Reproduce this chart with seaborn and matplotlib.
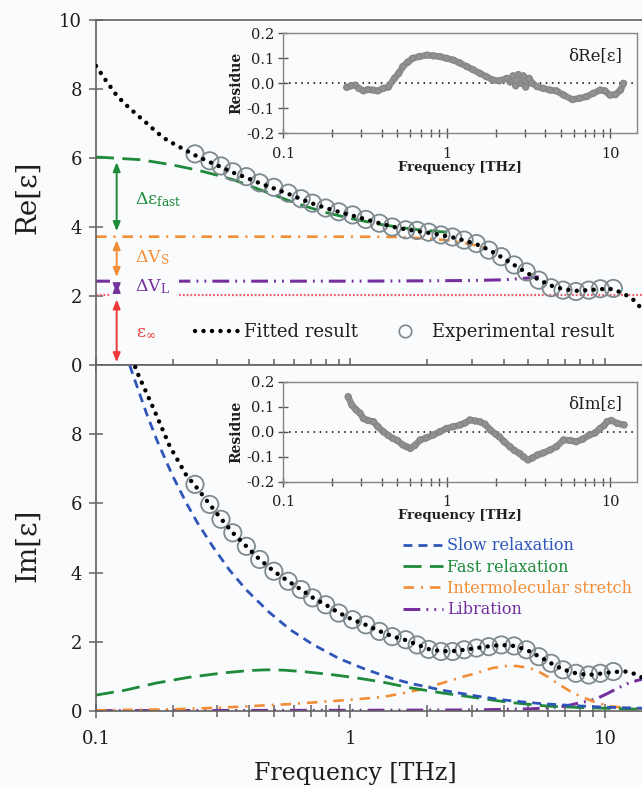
import numpy as np
import pandas as pd
import matplotlib
matplotlib.use("Agg")
import matplotlib.pyplot as plt
import seaborn as sns
from matplotlib.lines import Line2D
from matplotlib.patches import Rectangle
from matplotlib.ticker import FixedLocator, NullFormatter

# ---------------- data ----------------
FIT_F = [0.10, 0.11, 0.121, 0.133, 0.145, 0.16, 0.173, 0.19, 0.213, 0.245,
         0.28, 0.31, 0.345, 0.39, 0.44, 0.50, 0.57, 0.64, 0.71, 0.80,
         0.90, 1.02, 1.15, 1.30, 1.46, 1.65, 1.83, 2.03, 2.27, 2.52,
         2.80, 3.13, 3.50, 3.92, 4.40, 4.92, 5.50, 6.15, 6.85, 7.70,
         8.65, 9.60, 10.8, 12.1, 13.0, 14.0]
RE_FIT = [8.67, 8.22, 7.80, 7.50, 7.25, 6.98, 6.75, 6.52, 6.32, 6.08,
          5.88, 5.74, 5.58, 5.43, 5.27, 5.12, 4.96, 4.81, 4.68, 4.55,
          4.44, 4.33, 4.22, 4.11, 4.01, 3.93, 3.88, 3.83, 3.77, 3.70,
          3.61, 3.50, 3.34, 3.13, 2.90, 2.68, 2.47, 2.30, 2.20, 2.15,
          2.17, 2.20, 2.20, 2.03, 1.88, 1.62]

EXP_F = [0.245, 0.28, 0.31, 0.345, 0.39, 0.44, 0.50, 0.57, 0.64, 0.71,
         0.80, 0.90, 1.02, 1.15, 1.30, 1.46, 1.65, 1.83, 2.03, 2.27,
         2.52, 2.80, 3.13, 3.50, 3.92, 4.40, 4.92, 5.50, 6.15, 6.85,
         7.70, 8.65, 9.60, 10.8]
RE_EXP = [6.12, 5.92, 5.77, 5.60, 5.46, 5.28, 5.15, 4.98, 4.82, 4.69,
          4.55, 4.44, 4.35, 4.22, 4.11, 4.00, 3.92, 3.90, 3.85, 3.77,
          3.71, 3.62, 3.52, 3.33, 3.14, 2.90, 2.70, 2.46, 2.24, 2.17,
          2.13, 2.17, 2.21, 2.22]
IM_EXP = [6.55, 5.97, 5.54, 5.15, 4.76, 4.38, 4.04, 3.75, 3.51, 3.27,
          3.07, 2.83, 2.64, 2.49, 2.30, 2.15, 2.06, 1.91, 1.78, 1.72,
          1.72, 1.77, 1.82, 1.86, 1.91, 1.88, 1.77, 1.57, 1.38, 1.19,
          1.09, 1.04, 1.09, 1.14]

IM_FIT_F = [0.135, 0.146, 0.167, 0.195, 0.227, 0.245, 0.28, 0.31, 0.345, 0.39,
            0.44, 0.50, 0.57, 0.64, 0.71, 0.80, 0.90, 1.02, 1.15, 1.30,
            1.46, 1.65, 1.83, 2.03, 2.27, 2.52, 2.80, 3.13, 3.50, 3.92,
            4.40, 4.92, 5.50, 6.15, 6.85, 7.70, 8.65, 9.60, 10.8, 12.1,
            13.0, 14.0]
IM_FIT = [10.4, 9.75, 8.80, 7.65, 6.80, 6.52, 5.97, 5.56, 5.15, 4.76,
          4.38, 4.04, 3.75, 3.51, 3.28, 3.07, 2.84, 2.64, 2.49, 2.31,
          2.16, 2.05, 1.92, 1.79, 1.73, 1.73, 1.77, 1.82, 1.87, 1.91,
          1.88, 1.77, 1.58, 1.38, 1.20, 1.09, 1.04, 1.08, 1.13, 1.14,
          1.08, 0.97]

# Re components
RE_FAST_F = [0.10, 0.15, 0.20, 0.25, 0.30, 0.35, 0.41, 0.50, 0.61, 0.70,
             0.80, 1.00, 1.30, 1.70, 2.20, 2.50]
RE_FAST = [6.03, 5.95, 5.80, 5.65, 5.50, 5.36, 5.17, 4.93, 4.69, 4.55,
           4.42, 4.25, 4.08, 3.95, 3.87, 3.84]
RE_STR_F = [0.10, 1.0, 1.5, 2.0, 2.5, 3.0, 3.5]
RE_STR = [3.72, 3.72, 3.71, 3.67, 3.60, 3.50, 3.35]
RE_LIB_F = [0.10, 1.0, 2.0, 3.0, 4.0, 5.0, 5.5]
RE_LIB = [2.43, 2.43, 2.44, 2.45, 2.47, 2.52, 2.56]
EPS_F = [0.10, 14.0]
EPS_INF = [2.03, 2.03]

# Im components
IM_SLOW_F = [0.13, 0.14, 0.158, 0.173, 0.20, 0.227, 0.25, 0.288, 0.335, 0.39,
             0.48, 0.58, 0.71, 0.90, 1.15, 1.46, 1.72, 2.30, 3.15, 3.98,
             4.96, 5.70, 7.80, 10.0, 14.0]
IM_SLOW = [10.4, 9.7, 8.6, 7.85, 6.8, 6.0, 5.45, 4.75, 4.07, 3.5,
           2.85, 2.35, 1.93, 1.52, 1.2, 0.94, 0.8, 0.6, 0.43, 0.32,
           0.25, 0.21, 0.15, 0.11, 0.08]
IM_FAST_F = [0.10, 0.13, 0.173, 0.23, 0.315, 0.40, 0.467, 0.55, 0.67, 0.85,
             1.05, 1.33, 1.72, 2.30, 3.15, 4.20, 6.00, 8.00, 10.0, 14.0]
IM_FAST = [0.46, 0.60, 0.81, 0.97, 1.10, 1.17, 1.19, 1.18, 1.13, 1.05,
           0.96, 0.84, 0.67, 0.52, 0.38, 0.25, 0.14, 0.10, 0.08, 0.05]
IM_STR_F = [0.10, 0.20, 0.315, 0.58, 0.90, 1.33, 1.70, 1.88, 2.30, 2.80,
            3.15, 3.60, 4.10, 4.50, 5.00, 5.40, 6.00, 6.50, 7.50, 8.90,
            10.4, 12.2, 14.0]
IM_STR = [0.02, 0.05, 0.10, 0.20, 0.30, 0.40, 0.55, 0.62, 0.81, 1.00,
          1.10, 1.24, 1.30, 1.30, 1.25, 1.17, 0.98, 0.80, 0.52, 0.29,
          0.14, 0.09, 0.07]
IM_LIB_F = [0.10, 1.0, 3.0, 5.0, 6.0, 7.0, 7.8, 8.5, 9.3, 10.2, 11.1, 12.5, 14.0]
IM_LIB = [0.01, 0.02, 0.03, 0.06, 0.09, 0.14, 0.22, 0.28, 0.36, 0.50, 0.64, 0.82, 0.92]

# residues
RES_RE_F = [0.245, 0.26, 0.276, 0.29, 0.31, 0.33, 0.355, 0.38, 0.41, 0.44,
            0.48, 0.51, 0.54, 0.58, 0.62, 0.68, 0.76, 0.83, 0.91, 1.0,
            1.1, 1.2, 1.33, 1.45, 1.6, 1.75, 1.93, 2.1, 2.34, 2.45,
            2.55, 2.65, 2.75, 2.85, 2.95, 3.05, 3.2, 3.35, 3.58, 3.9,
            4.3, 4.7, 5.2, 5.9, 6.5, 7.2, 7.9, 8.7, 9.3, 10.0,
            10.8, 11.6, 12.1]
RES_RE = [-0.016, -0.01, -0.007, -0.02, -0.03, -0.025, -0.027, -0.03, -0.02, -0.015,
          0.02, 0.04, 0.067, 0.085, 0.10, 0.107, 0.113, 0.11, 0.107, 0.10,
          0.093, 0.082, 0.067, 0.055, 0.04, 0.027, 0.013, 0.01, 0.02, 0.005,
          0.03, -0.01, 0.035, 0.0, 0.03, -0.015, 0.02, 0.0, -0.013, -0.02,
          -0.027, -0.03, -0.047, -0.065, -0.06, -0.053, -0.04, -0.027, -0.03, -0.047,
          -0.045, -0.027, 0.0]
RES_IM_F = [0.25, 0.263, 0.28, 0.295, 0.31, 0.33, 0.357, 0.38, 0.41, 0.44,
            0.47, 0.5, 0.54, 0.57, 0.6, 0.64, 0.69, 0.75, 0.83, 0.91,
            1.0, 1.1, 1.21, 1.3, 1.39, 1.5, 1.6, 1.72, 1.85, 2.0,
            2.1, 2.25, 2.44, 2.6, 2.8, 2.95, 3.15, 3.35, 3.6, 3.9,
            4.3, 4.7, 5.2, 5.7, 6.2, 6.8, 7.5, 8.1, 8.7, 9.2,
            9.6, 10.2, 11.1, 12.2]
RES_IM = [0.14, 0.107, 0.087, 0.075, 0.053, 0.045, 0.04, 0.02, 0.0, -0.015,
          -0.027, -0.035, -0.053, -0.06, -0.067, -0.055, -0.033, -0.025, -0.013, 0.0,
          0.013, 0.02, 0.027, 0.035, 0.047, 0.043, 0.04, 0.03, 0.007, -0.01,
          -0.02, -0.04, -0.06, -0.075, -0.087, -0.1, -0.113, -0.105, -0.093, -0.085,
          -0.073, -0.06, -0.033, -0.035, -0.04, -0.03, -0.013, -0.005, 0.013, 0.025,
          0.04, 0.045, 0.033, 0.027]

# arrow spans (value ranges of the Re contributions)
ARROW_F = 0.1206
ARROWS = [(5.88, 3.88), (3.62, 2.55), (2.38, 2.08), (1.90, 0.08)]

MAJOR = [0.1, 1, 10]
MAJOR_LABELS = ["0.1", "1", "10"]
MINOR = [m * d for d in (0.1, 1.0) for m in range(2, 10)]

# ---------------- style ----------------
sns.set_theme(style="ticks")
plt.rcParams["font.family"] = ["DejaVu Serif", "DejaVu Sans"]
plt.rcParams["mathtext.fontset"] = "dejavuserif"

BG = "#fafbfd"
SPINE = "#626262"
TXT = "#1e1e1e"
BLUE = "#2f55b8"
GREEN = "#1e8a3a"
ORANGE = "#f28e36"
PURPLE = "#74309c"
PINK = "#ef5a6a"
RED = "#ec3838"
GRAY = "#7d898e"
RGRAY = "#878787"

DOT = (0, (0.01, 1.9))
LS_SLOW = (0, (3.2, 2.2))
LS_FAST = (0, (6.5, 3.0))
LS_STR = (0, (4.0, 2.6, 0.8, 2.6))
LS_LIB = (0, (5.5, 2.0, 0.6, 2.0, 0.6, 2.0))
LS_EPS = (0, (0.8, 0.9))

fig = plt.figure(figsize=(6.42, 7.88), dpi=100, facecolor=BG)
ax1 = fig.add_axes([0.1495, 0.5368, 0.8505, 0.4378])
ax2 = fig.add_axes([0.1495, 0.0977, 0.8505, 0.4391])


def style_main(ax):
    ax.set_facecolor(BG)
    ax.set_xscale("log")
    ax.set_xlim(0.1, 14)
    ax.set_ylim(0, 10)
    for s in ["left", "bottom", "top"]:
        ax.spines[s].set_color(SPINE)
        ax.spines[s].set_linewidth(1.2)
    ax.spines["right"].set_visible(False)
    ax.set_xticks(MAJOR, labels=MAJOR_LABELS)
    ax.xaxis.set_minor_locator(FixedLocator(MINOR))
    ax.xaxis.set_minor_formatter(NullFormatter())
    ax.tick_params(which="both", direction="inout", color=SPINE, width=1.1,
                   labelsize=13, labelcolor=TXT)
    ax.tick_params(which="major", length=10, pad=5)
    ax.tick_params(which="minor", length=9)
    ax.set_xlabel("")
    ax.set_ylabel("")


for ax in (ax1, ax2):
    style_main(ax)

ax1.set_yticks([0, 2, 4, 6, 8, 10])
ax2.set_yticks([0, 2, 4, 6, 8])
ax1.tick_params(axis="x", labelbottom=False)
ax2.tick_params(axis="x", pad=9)

# ---------------- top panel: Re ----------------
sns.lineplot(x=EPS_F, y=EPS_INF, ax=ax1, color=PINK, lw=1.6, linestyle=LS_EPS, zorder=2)
sns.lineplot(x=RE_LIB_F, y=RE_LIB, ax=ax1, color=PURPLE, lw=2.2, linestyle=LS_LIB, zorder=2)
sns.lineplot(x=RE_STR_F, y=RE_STR, ax=ax1, color=ORANGE, lw=1.9, linestyle=LS_STR, zorder=2)
sns.lineplot(x=RE_FAST_F, y=RE_FAST, ax=ax1, color=GREEN, lw=2.0, linestyle=LS_FAST, zorder=2)
sns.scatterplot(x=EXP_F, y=RE_EXP, ax=ax1, s=155, marker="o", facecolors="none",
                edgecolor=GRAY, linewidth=1.3, zorder=3)
sns.lineplot(x=FIT_F, y=RE_FIT, ax=ax1, color="black", lw=3.2, linestyle=DOT,
             dash_capstyle="round", zorder=4)

# blank area behind the ΔV_L label (the reference interrupts the lines there)
ax1.add_patch(Rectangle((0.1135, 1.90), 0.212 - 0.1135, 0.68, facecolor=BG,
                        edgecolor="none", zorder=2.5))

for (ytop, ybot), col in zip(ARROWS, [GREEN, ORANGE, PURPLE, RED]):
    ax1.annotate("", xy=(ARROW_F, ytop), xytext=(ARROW_F, ybot),
                 arrowprops=dict(arrowstyle="<|-|>,head_length=0.45,head_width=0.18",
                                 color=col, lw=1.4, shrinkA=0, shrinkB=0), zorder=5)

lab_x = 0.142
ax1.text(lab_x, 4.78, r"$\mathrm{\Delta\varepsilon}_{\mathrm{fast}}$", color=GREEN,
         fontsize=12.5, va="center", ha="left", zorder=6)
ax1.text(lab_x, 3.10, r"$\mathrm{\Delta V}_{\mathrm{S}}$", color=ORANGE,
         fontsize=12.5, va="center", ha="left", zorder=6)
ax1.text(lab_x, 2.26, r"$\mathrm{\Delta V}_{\mathrm{L}}$", color=PURPLE,
         fontsize=12.5, va="center", ha="left", zorder=6)
ax1.text(lab_x + 0.002, 0.96, r"$\mathrm{\varepsilon}_{\infty}$", color=RED,
         fontsize=12.5, va="center", ha="left", zorder=6)

h_fit = Line2D([], [], color="black", lw=3.2, linestyle=DOT, dash_capstyle="round")
h_exp = Line2D([], [], marker="o", ls="none", mfc="none", mec=GRAY, ms=9, mew=1.2)
leg1 = ax1.legend([h_fit, h_exp], ["Fitted result", "Experimental result"], ncol=2,
                  loc="center left", bbox_to_anchor=(0.181, 0.096), frameon=False,
                  fontsize=13, handlelength=2.4, handletextpad=0.3,
                  columnspacing=1.4, borderaxespad=0, borderpad=0)
for t in leg1.get_texts():
    t.set_color(TXT)

# ---------------- bottom panel: Im ----------------
sns.lineplot(x=IM_LIB_F, y=IM_LIB, ax=ax2, color=PURPLE, lw=2.2, linestyle=LS_LIB, zorder=2)
sns.lineplot(x=IM_STR_F, y=IM_STR, ax=ax2, color=ORANGE, lw=1.9, linestyle=LS_STR, zorder=2)
sns.lineplot(x=IM_FAST_F, y=IM_FAST, ax=ax2, color=GREEN, lw=2.0, linestyle=LS_FAST, zorder=2)
sns.lineplot(x=IM_SLOW_F, y=IM_SLOW, ax=ax2, color=BLUE, lw=2.0, linestyle=LS_SLOW, zorder=2)
sns.scatterplot(x=EXP_F, y=IM_EXP, ax=ax2, s=155, marker="o", facecolors="none",
                edgecolor=GRAY, linewidth=1.3, zorder=3)
sns.lineplot(x=IM_FIT_F, y=IM_FIT, ax=ax2, color="black", lw=3.2, linestyle=DOT,
             dash_capstyle="round", zorder=4)

hs = [Line2D([], [], color=BLUE, lw=2.0, linestyle=LS_SLOW),
      Line2D([], [], color=GREEN, lw=2.0, linestyle=LS_FAST),
      Line2D([], [], color=ORANGE, lw=1.9, linestyle=LS_STR),
      Line2D([], [], color=PURPLE, lw=2.2, linestyle=LS_LIB)]
names = ["Slow relaxation", "Fast relaxation", "Intermolecular stretch", "Libration"]
leg2 = ax2.legend(hs, names, loc="upper left", bbox_to_anchor=(0.562, 0.502),
                  frameon=False, fontsize=11.5, handlelength=2.5, handletextpad=0.25,
                  labelspacing=0.27, borderaxespad=0, borderpad=0)
for t, c in zip(leg2.get_texts(), [BLUE, GREEN, ORANGE, PURPLE]):
    t.set_color(c)

# ---------------- insets ----------------
def style_inset(ax, title):
    ax.set_facecolor(BG)
    ax.set_xscale("log")
    ax.set_xlim(0.1, 14.6)
    ax.set_ylim(-0.2, 0.2)
    for s in ax.spines.values():
        s.set_color("#8a8580")
        s.set_linewidth(1.0)
    ax.set_xticks(MAJOR, labels=MAJOR_LABELS)
    ax.xaxis.set_minor_locator(FixedLocator(MINOR))
    ax.xaxis.set_minor_formatter(NullFormatter())
    ax.set_yticks([-0.2, -0.1, 0.0, 0.1, 0.2],
                  labels=["-0.2", "-0.1", "0.0", "0.1", "0.2"])
    ax.tick_params(which="both", direction="inout", color="#555555", width=1.0,
                   labelsize=10.5, labelcolor=TXT, pad=3)
    ax.tick_params(axis="x", pad=6)
    ax.tick_params(which="major", length=7)
    ax.tick_params(which="minor", length=6)
    ax.axhline(0, color="black", lw=1.1, linestyle=(0, (1, 3)), zorder=1)
    ax.text(0.958, 0.78, title, transform=ax.transAxes, ha="right", va="center",
            fontsize=12, color=TXT)


in1 = fig.add_axes([0.441, 0.8308, 0.551, 0.1269])
in2 = fig.add_axes([0.441, 0.3887, 0.551, 0.1269])
style_inset(in1, "δRe[ε]")
style_inset(in2, "δIm[ε]")

for ax, fx, fy in ((in1, RES_RE_F, RES_RE), (in2, RES_IM_F, RES_IM)):
    sns.lineplot(x=fx, y=fy, ax=ax, color=RGRAY, lw=4.8, zorder=2, alpha=0.9)
    sns.scatterplot(x=fx, y=fy, ax=ax, s=18, marker="o", facecolors="none",
                    edgecolor=RGRAY, linewidth=1.0, zorder=3)
    ax.set_xlabel("Frequency [THz]", fontsize=9.5, fontweight="bold", labelpad=0,
                  color=TXT)
    ax.set_ylabel("Residue", fontsize=10, fontweight="bold", labelpad=2, color=TXT)

# ---------------- axis titles ----------------
fig.text(0.0436, 0.749, "Re[ε]", rotation=90, fontsize=20, ha="center", va="center",
         color=TXT)
fig.text(0.0436, 0.308, "Im[ε]", rotation=90, fontsize=20, ha="center", va="center",
         color=TXT)
fig.text(0.553, 0.019, "Frequency [THz]", fontsize=17, ha="center", va="center",
         color=TXT)

fig.savefig("out.png", dpi=100, facecolor=BG)
